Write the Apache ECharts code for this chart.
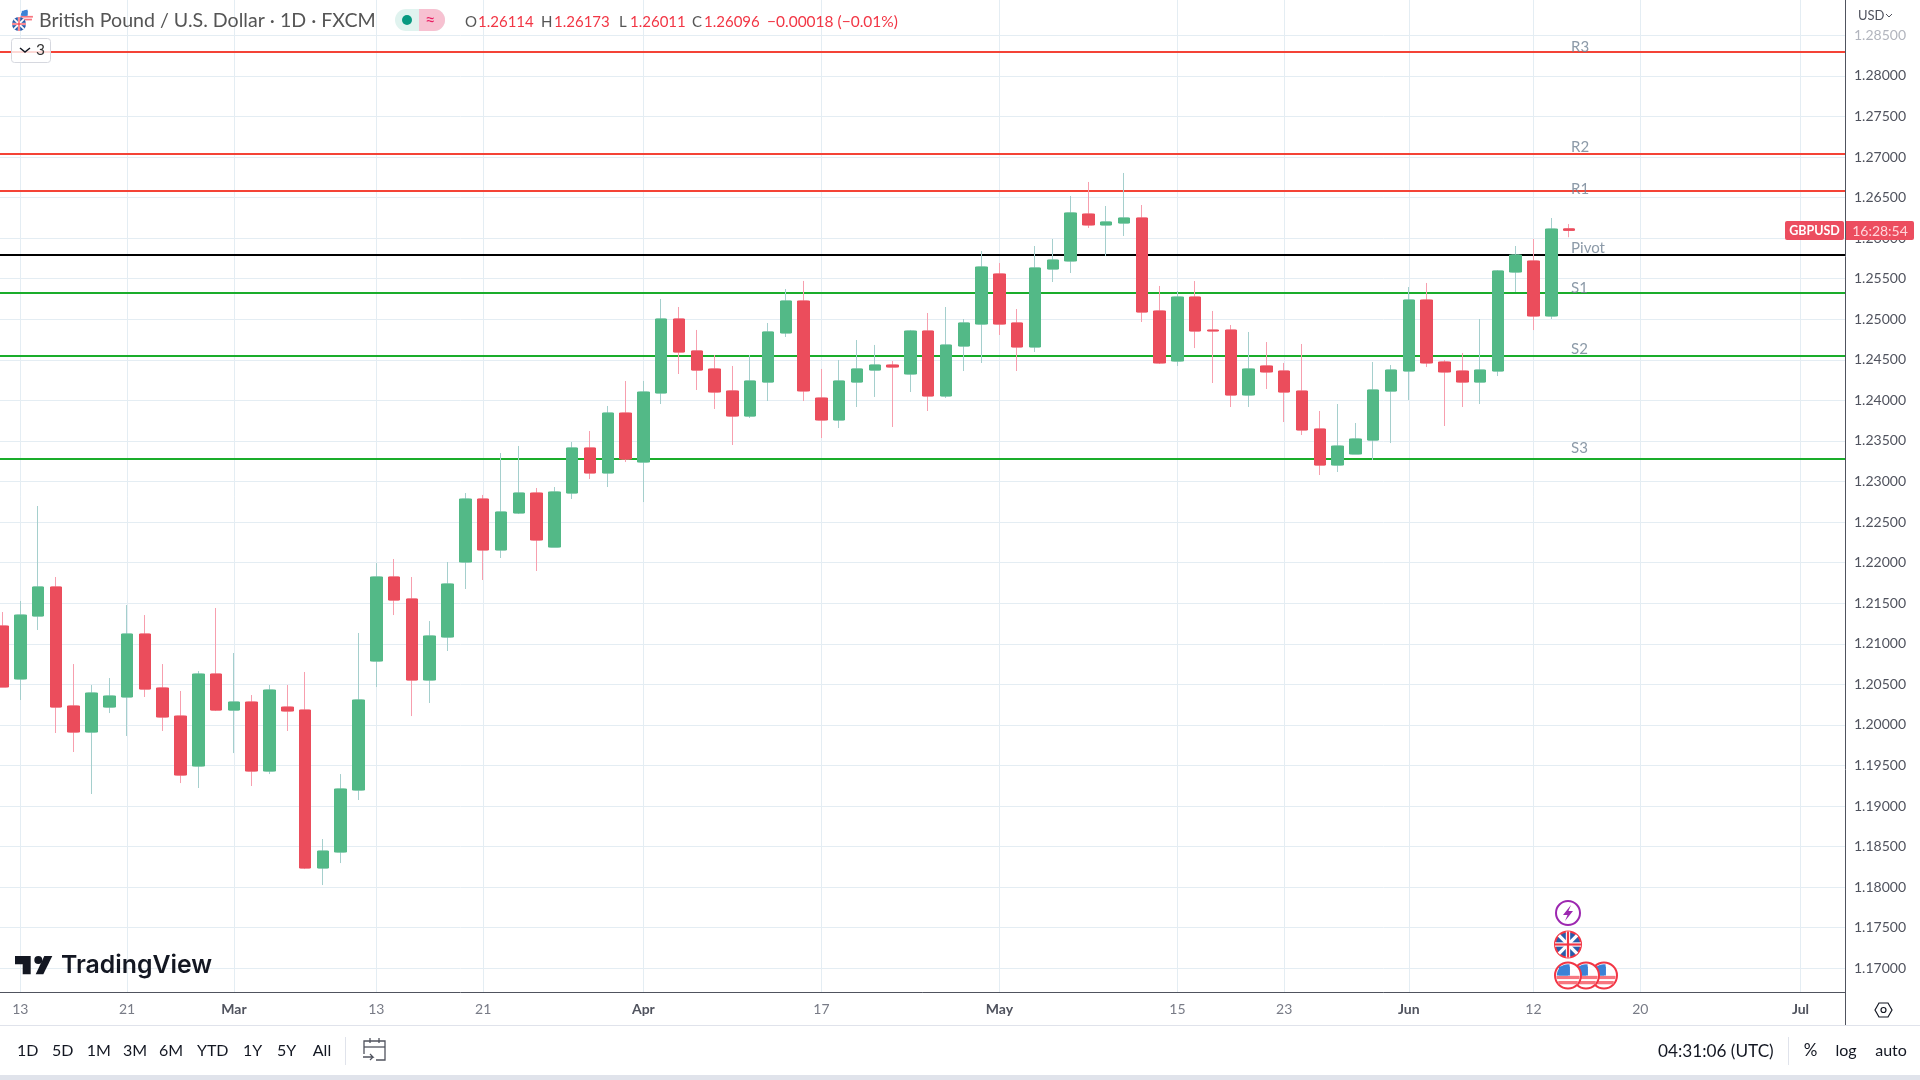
<!DOCTYPE html>
<html>
<head>
<meta charset="utf-8">
<title>GBPUSD</title>
<script src="https://cdn.jsdelivr.net/npm/echarts@6/dist/echarts.min.js"></script>
<style>
  html, body { margin: 0; padding: 0; background: #fff; }
  #chart { width: 1920px; height: 1080px; }
</style>
</head>
<body>
<div id="chart"></div>
<script>
// trading days
const dates = [
  "Feb 10",
  "Feb 13", "Feb 14", "Feb 15", "Feb 16", "Feb 17",
  "Feb 20", "Feb 21", "Feb 22", "Feb 23", "Feb 24",
  "Feb 27", "Feb 28", "Mar 1", "Mar 2", "Mar 3",
  "Mar 6", "Mar 7", "Mar 8", "Mar 9", "Mar 10",
  "Mar 13", "Mar 14", "Mar 15", "Mar 16", "Mar 17",
  "Mar 20", "Mar 21", "Mar 22", "Mar 23", "Mar 24",
  "Mar 27", "Mar 28", "Mar 29", "Mar 30", "Mar 31",
  "Apr 3", "Apr 4", "Apr 5", "Apr 6", "Apr 7",
  "Apr 10", "Apr 11", "Apr 12", "Apr 13", "Apr 14",
  "Apr 17", "Apr 18", "Apr 19", "Apr 20", "Apr 21",
  "Apr 24", "Apr 25", "Apr 26", "Apr 27", "Apr 28",
  "May 1", "May 2", "May 3", "May 4", "May 5",
  "May 8", "May 9", "May 10", "May 11", "May 12",
  "May 15", "May 16", "May 17", "May 18", "May 19",
  "May 22", "May 23", "May 24", "May 25", "May 26",
  "May 29", "May 30", "May 31", "Jun 1", "Jun 2",
  "Jun 5", "Jun 6", "Jun 7", "Jun 8", "Jun 9",
  "Jun 12", "Jun 13", "Jun 14", "Jun 15", "Jun 16",
  "Jun 19", "Jun 20", "Jun 21", "Jun 22", "Jun 23",
  "Jun 26", "Jun 27", "Jun 28", "Jun 29", "Jun 30",
  "Jul 3", "Jul 4", "Jul 5",
];
const opens = [
  1.21219, 1.20566, 1.21342, 1.217, 1.20233, 1.19912, 1.2022, 1.20344, 1.2112, 1.20455,
  1.20109, 1.19493, 1.20627, 1.20183, 1.20282, 1.19431, 1.2022, 1.20183, 1.18236, 1.18433,
  1.19197, 1.20787, 1.21823, 1.21552, 1.20553, 1.21083, 1.22008, 1.22784, 1.22156, 1.22612,
  1.22858, 1.22192, 1.22858, 1.23413, 1.23105, 1.23844, 1.2324, 1.24091, 1.25003, 1.24609,
  1.24387, 1.24116, 1.23807, 1.24226, 1.24831, 1.25225, 1.24029, 1.23758, 1.24226, 1.24374,
  1.24436, 1.24325, 1.24855, 1.24054, 1.2467, 1.24941, 1.25558, 1.24954, 1.24658, 1.25619,
  1.25718, 1.26297, 1.26162, 1.26186, 1.26248, 1.25102, 1.24485, 1.25274, 1.24867, 1.24867,
  1.24066, 1.24424, 1.24362, 1.24115, 1.23647, 1.23203, 1.23339, 1.23511, 1.24115, 1.24362,
  1.25237, 1.24473, 1.24362, 1.24226, 1.24362, 1.25582, 1.25718, 1.2504, 1.26114,
];
const closes = [
  1.20467, 1.21354, 1.217, 1.2022, 1.19912, 1.20393, 1.20356, 1.2112, 1.20442, 1.20097,
  1.19382, 1.20627, 1.20183, 1.20282, 1.19431, 1.2043, 1.20171, 1.18236, 1.18445, 1.1921,
  1.20307, 1.21823, 1.21539, 1.20553, 1.21096, 1.21737, 1.22784, 1.22156, 1.22624, 1.22858,
  1.22279, 1.22871, 1.23413, 1.23105, 1.23844, 1.23277, 1.24103, 1.25003, 1.24596, 1.24374,
  1.24103, 1.23807, 1.24239, 1.24843, 1.25225, 1.24116, 1.23758, 1.24239, 1.24387, 1.24436,
  1.24411, 1.24855, 1.24054, 1.24682, 1.24954, 1.25644, 1.24941, 1.24658, 1.25632, 1.2573,
  1.2631, 1.26162, 1.26199, 1.26248, 1.25089, 1.24461, 1.25274, 1.24855, 1.24855, 1.24066,
  1.24387, 1.2435, 1.24103, 1.23635, 1.23203, 1.23437, 1.23524, 1.24128, 1.24374, 1.25237,
  1.24461, 1.2435, 1.24226, 1.24374, 1.25595, 1.25792, 1.2504, 1.26112, 1.26096,
];
const lows = [
  1.20467, 1.20307, 1.2117, 1.199, 1.19666, 1.19148, 1.20146, 1.19863, 1.20344, 1.19925,
  1.19283, 1.19222, 1.20171, 1.19653, 1.19247, 1.19394, 1.19925, 1.18223, 1.18026, 1.18297,
  1.19074, 1.20467, 1.21354, 1.20109, 1.2027, 1.20911, 1.21675, 1.21786, 1.22057, 1.22599,
  1.21897, 1.22192, 1.22784, 1.23031, 1.22932, 1.2324, 1.22747, 1.23955, 1.24325, 1.24128,
  1.23894, 1.2345, 1.23783, 1.23992, 1.24781, 1.23992, 1.23536, 1.23659, 1.23918, 1.24042,
  1.23672, 1.24103, 1.23869, 1.24029, 1.24362, 1.24461, 1.24806, 1.24362, 1.24596, 1.25459,
  1.2557, 1.26125, 1.2578, 1.26026, 1.24966, 1.24448, 1.24424, 1.24645, 1.24214, 1.23918,
  1.23918, 1.2414, 1.23733, 1.23573, 1.2308, 1.23117, 1.23339, 1.23265, 1.23474, 1.24005,
  1.24411, 1.23684, 1.23918, 1.23955, 1.243, 1.25336, 1.24867, 1.25003, 1.26011,
];
const highs = [
  1.21391, 1.21527, 1.22698, 1.21823, 1.2075, 1.20492, 1.20578, 1.21478, 1.21354, 1.2075,
  1.20418, 1.20664, 1.21441, 1.20886, 1.20368, 1.20492, 1.20492, 1.20652, 1.18593, 1.19394,
  1.21133, 1.21995, 1.22045, 1.21823, 1.2128, 1.22008, 1.22858, 1.22834, 1.23351, 1.23438,
  1.2292, 1.22932, 1.23487, 1.23622, 1.23931, 1.24239, 1.24239, 1.2525, 1.25151, 1.24868,
  1.24559, 1.24424, 1.24559, 1.24954, 1.25373, 1.25472, 1.24387, 1.24498, 1.24744, 1.24683,
  1.24485, 1.24868, 1.25077, 1.25151, 1.25003, 1.25841, 1.25693, 1.25126, 1.25903, 1.25989,
  1.26519, 1.26692, 1.26396, 1.26803, 1.26408, 1.2541, 1.25348, 1.25471, 1.25102, 1.24929,
  1.24843, 1.24719, 1.24461, 1.24695, 1.23869, 1.23955, 1.23721, 1.24473, 1.24436, 1.25397,
  1.25447, 1.24498, 1.24584, 1.25003, 1.25607, 1.25903, 1.25989, 1.26248, 1.26173,
];
// pivot levels
const pivotNames = ["R3", "R2", "R1", "Pivot", "S1", "S2", "S3"];
const pivotValues = [1.28298, 1.27041, 1.26585, 1.25792, 1.25327, 1.24551, 1.23281];
// axis ticks
const priceTicks = [
  1.17, 1.175, 1.18, 1.185, 1.19, 1.195, 1.2, 1.205, 1.21, 1.215, 1.22, 1.225,
  1.23, 1.235, 1.24, 1.245, 1.25, 1.255, 1.26, 1.265, 1.27, 1.275, 1.28, 1.285,
];
const dateTicks = ["Feb 13", "Feb 21", "Mar 1", "Mar 13", "Mar 21", "Apr 3", "Apr 17", "May 1", "May 15", "May 23", "Jun 1", "Jun 12", "Jun 20", "Jul 3"];
const dateTickLabels = ["13", "21", "Mar", "13", "21", "Apr", "17", "May", "15", "23", "Jun", "12", "20", "Jul"];

const UP = "#53b987";
const DOWN = "#eb4d5c";
const UP_WICK = "#a5cfcd";
const DOWN_WICK = "#f79fae";
const GRID = "#e4edf3";
const AXIS = "#50535e";
const TEXT = "#787b86";
const FONT = "Lato, 'Noto Sans', sans-serif";
const pivotColors = ["#f44336", "#f44336", "#f44336", "#000000", "#1aad2b", "#1aad2b", "#1aad2b"];
// 标签离线的距离
const labelLift = [5, 7, 1, 7, 5, 7, 11];

const isDateTick = (index, value) => dateTicks.includes(value);

// 小图标
const txt = (text, x, y, font, fill, align) => ({
  type: "text", z: 50, silent: true,
  style: { text, x, y, fill, font: typeof font === "number" ? font + "px " + FONT : font, textVerticalAlign: "middle", textAlign: align || "left" },
});
const shape = (type, shapeOpt, style, z) => ({ type, shape: shapeOpt, style, silent: true, z: z || 50 });

const ukFlag = (cx, cy, r, z) => {
  const d = r * 0.7;
  return [
    shape("circle", { cx, cy, r }, { fill: "#2a5caa", stroke: r > 10 ? "#f23645" : "#2a5caa", lineWidth: r > 10 ? 2 : 0 }, z),
    shape("line", { x1: cx - d, y1: cy - d, x2: cx + d, y2: cy + d }, { stroke: "#fff", lineWidth: r / 4 }, z),
    shape("line", { x1: cx - d, y1: cy + d, x2: cx + d, y2: cy - d }, { stroke: "#fff", lineWidth: r / 4 }, z),
    shape("line", { x1: cx - r, y1: cy, x2: cx + r, y2: cy }, { stroke: "#fff", lineWidth: r / 3 }, z),
    shape("line", { x1: cx, y1: cy - r, x2: cx, y2: cy + r }, { stroke: "#fff", lineWidth: r / 3 }, z),
    shape("line", { x1: cx - r, y1: cy, x2: cx + r, y2: cy }, { stroke: "#f23645", lineWidth: r / 6 }, z),
    shape("line", { x1: cx, y1: cy - r, x2: cx, y2: cy + r }, { stroke: "#f23645", lineWidth: r / 6 }, z),
  ];
};
const usFlag = (cx, cy, r, z) => {
  const out = [shape("circle", { cx, cy, r }, { fill: "#fff", stroke: r > 10 ? "#f23645" : "#fff", lineWidth: r > 10 ? 2 : 0 }, z)];
  [0.15, 0.55].forEach((k) => {
    const w = Math.sqrt(1 - k * k) * r * 0.9;
    out.push(shape("line", { x1: cx - w, y1: cy + k * r, x2: cx + w, y2: cy + k * r }, { stroke: "#f7767f", lineWidth: r / 4 }, z));
  });
  out.push(shape("sector", { cx, cy, r: r * 0.86, startAngle: Math.PI, endAngle: Math.PI * 1.55 }, { fill: "#3b82d6" }, z));
  out.push(shape("rect", { x: cx - r * 0.7, y: cy - r * 0.7, width: r * 0.85, height: r * 0.7 }, { fill: "#3b82d6" }, z));
  return out;
};

const graphics = [
  // 顶部标题
  ...usFlag(26.7, 15.7, 7, 49),
  ...ukFlag(19, 24, 7, 50),
  txt("British Pound / U.S. Dollar · 1D · FXCM", 39, 21, 19.6, "#555"),
  shape("rect", { x: 395, y: 9, width: 50, height: 22, r: 11 }, { fill: "#e0f3ef" }),
  shape("rect", { x: 419, y: 9, width: 26, height: 22, r: [0, 11, 11, 0] }, { fill: "#f7c1d1" }),
  shape("circle", { cx: 407, cy: 20, r: 5 }, { fill: "#089981" }),
  txt("≈", 425, 20, 18, "#e91e63"),
  txt("O", 465, 22, 15, "#555"),
  txt("1.26114", 478, 22, 15, "#f23645"),
  txt("H", 541, 22, 15, "#555"),
  txt("1.26173", 554, 22, 15, "#f23645"),
  txt("L", 619, 22, 15, "#555"),
  txt("1.26011", 630, 22, 15, "#f23645"),
  txt("C", 692, 22, 15, "#555"),
  txt("1.26096", 704, 22, 15, "#f23645"),
  txt("−0.00018 (−0.01%)", 767, 22, 15.5, "#f23645"),
  shape("rect", { x: 11.5, y: 38.5, width: 39, height: 24, r: 3 }, { fill: "rgba(255,255,255,0.8)", stroke: "#d6d8df", lineWidth: 1 }),
  shape("polyline", { points: [[20, 48], [25, 52], [30, 48]] }, { stroke: "#131722", lineWidth: 1.5, fill: null }),
  txt("3", 36, 50, 15.5, "#333"),
  txt("USD", 1858, 16, 13, AXIS),
  shape("polyline", { points: [[1886, 14], [1889, 17], [1892, 14]] }, { stroke: AXIS, lineWidth: 1, fill: null }),
  // 当前价标签
  shape("rect", { x: 1785, y: 221, width: 59, height: 19, r: 2 }, { fill: "#ec4d5f" }),
  txt("GBPUSD", 1814.5, 231, "bold 12.5px " + FONT, "#fff", "center"),
  shape("rect", { x: 1846, y: 221, width: 68, height: 19, r: [0, 2, 2, 0] }, { fill: "#ec4d5f" }),
  txt("16:28:54", 1880, 231, 14, "#ffd5da", "center"),
  // 坐标轴分隔线
  shape("line", { x1: 1845.5, y1: 0, x2: 1845.5, y2: 1026 }, { stroke: AXIS, lineWidth: 1 }),
  shape("rect", { x: 0, y: 1025, width: 1920, height: 1 }, { fill: "#e0e3eb" }),
  shape("rect", { x: 0, y: 1075, width: 1920, height: 5 }, { fill: "#e0e3eb" }),
  // 设置按钮
  shape("polygon", { points: [[1875, 1010], [1879, 1003], [1888, 1003], [1892, 1010], [1888, 1017], [1879, 1017]] }, { fill: "none", stroke: "#131722", lineWidth: 1.2 }),
  shape("circle", { cx: 1883.5, cy: 1010, r: 2.5 }, { fill: "none", stroke: "#131722", lineWidth: 1.2 }),
  // 水印
  shape("polygon", { points: [[15, 956], [30.7, 956], [30.7, 974.3], [22.7, 974.3], [22.7, 964.3], [15, 964.3]] }, { fill: "#131722" }),
  shape("circle", { cx: 38.3, cy: 960, r: 4 }, { fill: "#131722" }),
  shape("polygon", { points: [[43.3, 974.3], [35.7, 974.3], [44.3, 956], [52.3, 956]] }, { fill: "#131722" }),
  txt("TradingView", 61, 966, "600 24.8px Inter, Lato, sans-serif", "#131722"),
  // 底部工具栏
  ...[["1D", 27.7], ["5D", 62.7], ["1M", 98.7], ["3M", 135], ["6M", 171], ["YTD", 212.7], ["1Y", 252.7], ["5Y", 286.7], ["All", 322]]
    .map((b) => txt(b[0], b[1], 1051, 16, "#131722", "center")),
  shape("rect", { x: 345, y: 1037, width: 1, height: 28 }, { fill: "#e0e3eb" }),
  shape("polyline", { points: [[364, 1054], [364, 1041], [385, 1041], [385, 1060], [376, 1060]] }, { fill: null, stroke: "#50535e", lineWidth: 1.3 }),
  shape("line", { x1: 364, y1: 1047, x2: 385, y2: 1047 }, { stroke: "#50535e", lineWidth: 1.3 }),
  shape("line", { x1: 370, y1: 1038, x2: 370, y2: 1043 }, { stroke: "#50535e", lineWidth: 1.3 }),
  shape("line", { x1: 379, y1: 1038, x2: 379, y2: 1043 }, { stroke: "#50535e", lineWidth: 1.3 }),
  shape("polyline", { points: [[363, 1057], [373, 1057], [370, 1054]] }, { stroke: "#50535e", lineWidth: 1.3, fill: null }),
  shape("polyline", { points: [[373, 1057], [370, 1060]] }, { stroke: "#50535e", lineWidth: 1.3, fill: null }),
  txt("04:31:06 (UTC)", 1658, 1051, 17.2, "#131722"),
  shape("rect", { x: 1788, y: 1037, width: 1, height: 28 }, { fill: "#e0e3eb" }),
  txt("%", 1810.5, 1051, 17, "#131722", "center"),
  txt("log", 1846, 1051, 16, "#131722", "center"),
  txt("auto", 1891, 1051, 16, "#131722", "center"),
  // 事件图标
  shape("circle", { cx: 1568, cy: 913, r: 12 }, { fill: "#fff", stroke: "#9c27b0", lineWidth: 2 }),
  shape("polygon", { points: [[1571, 905], [1563, 915], [1567.5, 915], [1565, 921], [1573, 911], [1568.5, 911]] }, { fill: "#9c27b0" }),
  ...ukFlag(1568, 944.5, 13, 50),
  ...usFlag(1604, 975.5, 13, 48),
  ...usFlag(1586, 975.5, 13, 49),
  ...usFlag(1568, 975.5, 13, 50),
];

var myChart = echarts.init(document.getElementById("chart"));
var option = {
  animation: false,
  backgroundColor: "#fff",
  textStyle: { fontFamily: FONT },
  grid: { left: -6.4, right: 75, top: 0, bottom: 87.7, outerBoundsMode: "none" },
  xAxis: {
    type: "category",
    data: dates,
    boundaryGap: true,
    axisLine: { show: true, lineStyle: { color: AXIS, width: 1 } },
    axisTick: { show: false, interval: isDateTick, alignWithLabel: true },
    splitLine: { show: true, interval: isDateTick, alignWithLabel: true, lineStyle: { color: GRID, width: 1 } },
    axisLabel: {
      interval: isDateTick,
      margin: 10,
      hideOverlap: false,
      fontSize: 14,
      color: TEXT,
      formatter: (value) => {
        const label = dateTickLabels[dateTicks.indexOf(value)];
        return /[a-z]/.test(label) ? "{m|" + label + "}" : label;
      },
      rich: { m: { fontSize: 14, fontWeight: 700, color: AXIS } },
    },
  },
  yAxis: {
    type: "value",
    position: "right",
    min: 1.16704,
    max: 1.28935,
    axisLine: { show: false },
    axisTick: { show: false, customValues: priceTicks },
    splitLine: { show: true, lineStyle: { color: GRID, width: 1 } },
    axisLabel: {
      customValues: priceTicks,
      margin: 9,
      fontSize: 14,
      color: (value) => (value > 1.284 ? "#b2b5be" : AXIS),
      formatter: (value) => value.toFixed(5),
    },
  },
  series: [
    // 枢轴线
    {
      type: "line",
      data: [],
      silent: true,
      z: 1,
      markLine: {
        silent: true,
        z: 1,
        precision: 5,
        symbol: "none",
        animation: false,
        label: { show: false },
        data: pivotValues.map((v, i) => ({ yAxis: v, lineStyle: { color: pivotColors[i], width: 2, type: "solid" } })),
      },
    },
    // 影线
    {
      type: "candlestick",
      z: 3,
      barWidth: 9,
      silent: true,
      itemStyle: { color: UP_WICK, color0: DOWN_WICK, borderColor: UP_WICK, borderColor0: DOWN_WICK, borderWidth: 1 },
      data: opens.map((o, i) => [o, closes[i], lows[i], highs[i]]),
    },
    // 实体
    {
      type: "candlestick",
      z: 4,
      barWidth: 12,
      silent: true,
      itemStyle: { color: UP, color0: DOWN, borderColor: UP, borderColor0: DOWN, borderWidth: 1 },
      data: opens.map((o, i) => [o, closes[i], Math.min(o, closes[i]), Math.max(o, closes[i])]),
    },
    // 枢轴名称
    {
      type: "scatter",
      z: 5,
      silent: true,
      symbolSize: 0,
      data: pivotValues.map((v, i) => ({
        value: ["Jun 14", v],
        label: { show: true, position: "right", distance: 2, offset: [0, -labelLift[i]], formatter: pivotNames[i], fontSize: 15, color: "#6f8192" },
      })),
    },
  ],
  graphic: graphics,
};
myChart.setOption(option);
</script>
</body>
</html>
